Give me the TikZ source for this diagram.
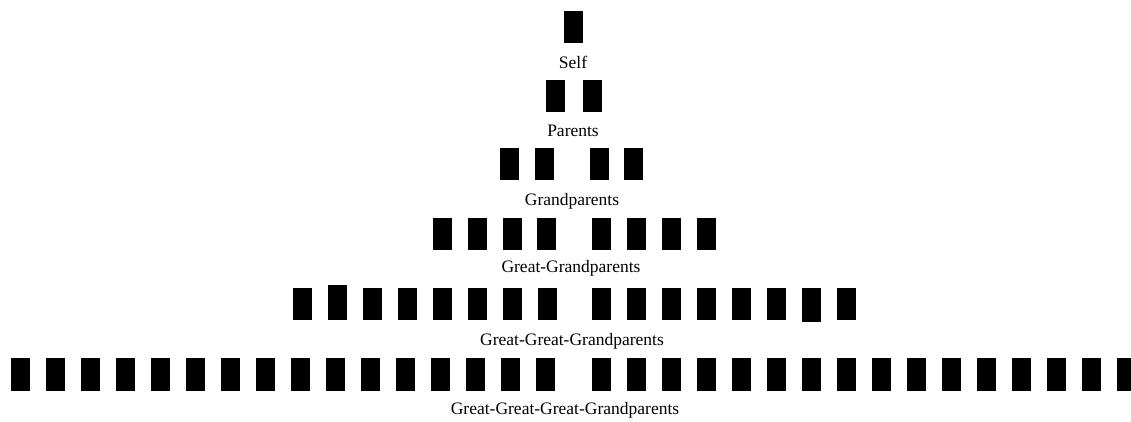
\documentclass[tikz,border=0pt]{standalone}
\usepackage{fontspec}
\setmainfont{Liberation Serif}
\begin{document}
\begin{tikzpicture}[x=1pt,y=-1pt,
  box/.style={fill=black,draw=none,inner sep=0pt,minimum width=19pt,minimum height=32pt,anchor=north west},
  lbl/.style={inner sep=0pt,font=\fontsize{17.5}{20}\selectfont}]
\fill[white] (0,0) rectangle (1131,421);
\useasboundingbox (0,0) rectangle (1131,421);
\clip (0,0) rectangle (1131,421);
% Self
\node[box] (s0) at (564,11) {};
\node[lbl] (tself) at (573,62) {Self};
% Parents
\node[box] (p0) at (546,80) {};
\node[box] (p1) at (583,80) {};
\node[lbl] (tpar) at (573,131) {Parents};
% Grandparents
\node[box] (g0) at (500,148) {};
\node[box] (g1) at (535,148) {};
\node[box] (g2) at (590,148) {};
\node[box] (g3) at (624,148) {};
\node[lbl] (tgp) at (572,201) {Grandparents};
% Great-Grandparents
\foreach \k in {0,...,3}{
  \node[box] (gg\k) at ({433+34.67*\k},218) {};
  \node[box] (ggr\k) at ({592+35*\k},218) {};
}
\node[lbl] (tggp) at (571,268) {Great-Grandparents};
% Great-Great-Grandparents
\foreach \k in {0,2,3,4,5,6,7}{
  \node[box] (ggg\k) at ({293+35*\k},288) {};
}
\node[box,minimum height=35pt] (ggg1) at (328,285) {};
\foreach \k in {0,1,2,3,4,5,7}{
  \node[box] (gggr\k) at ({592+35*\k},288) {};
}
\node[box,minimum height=34pt] (gggr6) at (802,288) {};
\node[lbl] (tgggp) at (572,341) {Great-Great-Grandparents};
% Great-Great-Great-Grandparents
\foreach \k in {0,...,15}{
  \node[box,minimum height=33pt] (gggg\k) at ({11+35*\k},358) {};
  \node[box,minimum height=33pt] (ggggr\k) at ({592+35*\k},358) {};
}
\node[lbl] (tggggp) at (565,410) {Great-Great-Great-Grandparents};
\end{tikzpicture}
\end{document}
